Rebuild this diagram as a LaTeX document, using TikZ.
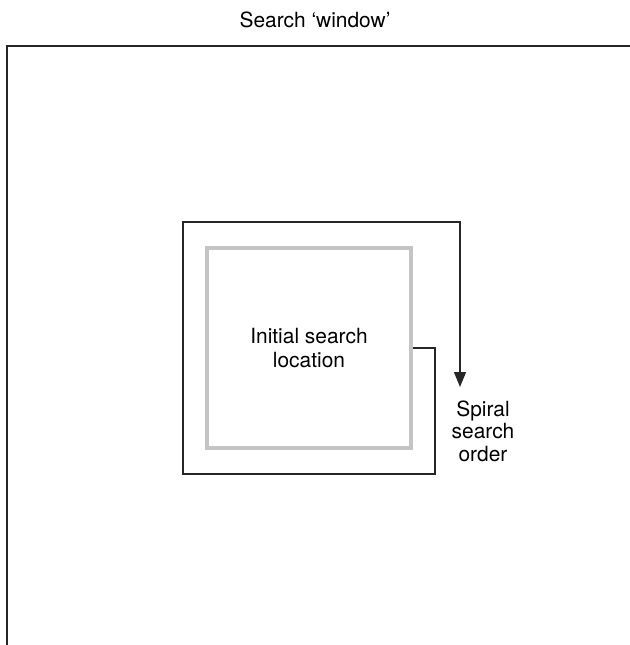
\documentclass[tikz,border=0pt]{standalone}
\usepackage{fontspec}
\setmainfont{TeX Gyre Heros}
\usetikzlibrary{arrows.meta}
\definecolor{boxgray}{HTML}{C4C4C4}
\tikzset{
  frame/.style={line width=0.75pt, black!85},
  spiral/.style={-{Triangle[length=7.5pt, width=6pt]}, line width=0.75pt, black!85},
  lab/.style={font=\fontsize{10.5}{12}\selectfont, align=center, inner sep=0pt},
  slab/.style={font=\fontsize{10.5}{11.25}\selectfont, align=center, inner sep=0pt},
}
\begin{document}
\begin{tikzpicture}[x=0.5bp,y=-0.5bp,
  locbox/.style={draw=boxgray, line width=2pt, minimum width=102bp, minimum height=100bp, lab}]
\useasboundingbox (0,0) rectangle (630,645);

% ---- search window ---------------------------------------------------------
\coordinate (wbl) at (7,645);
\coordinate (wtl) at (7,46);
\coordinate (wtr) at (630,46);
\draw[frame] (wbl) -- (wtl) -- (wtr);
\node[lab] (wlab) at (315,20) {Search ‘window’};
% ---- initial location ------------------------------------------------------
\node[locbox] (loc) at (309,348) {Initial search\\ location};
% ---- spiral ----------------------------------------------------------------
\coordinate (tip) at (460,387);
\draw[spiral] (loc.east) -| (435,474) -| (183,222) -| (tip);
\node[slab] (order) at (483,431) {Spiral\\ search\\ order};

\end{tikzpicture}
\end{document}
